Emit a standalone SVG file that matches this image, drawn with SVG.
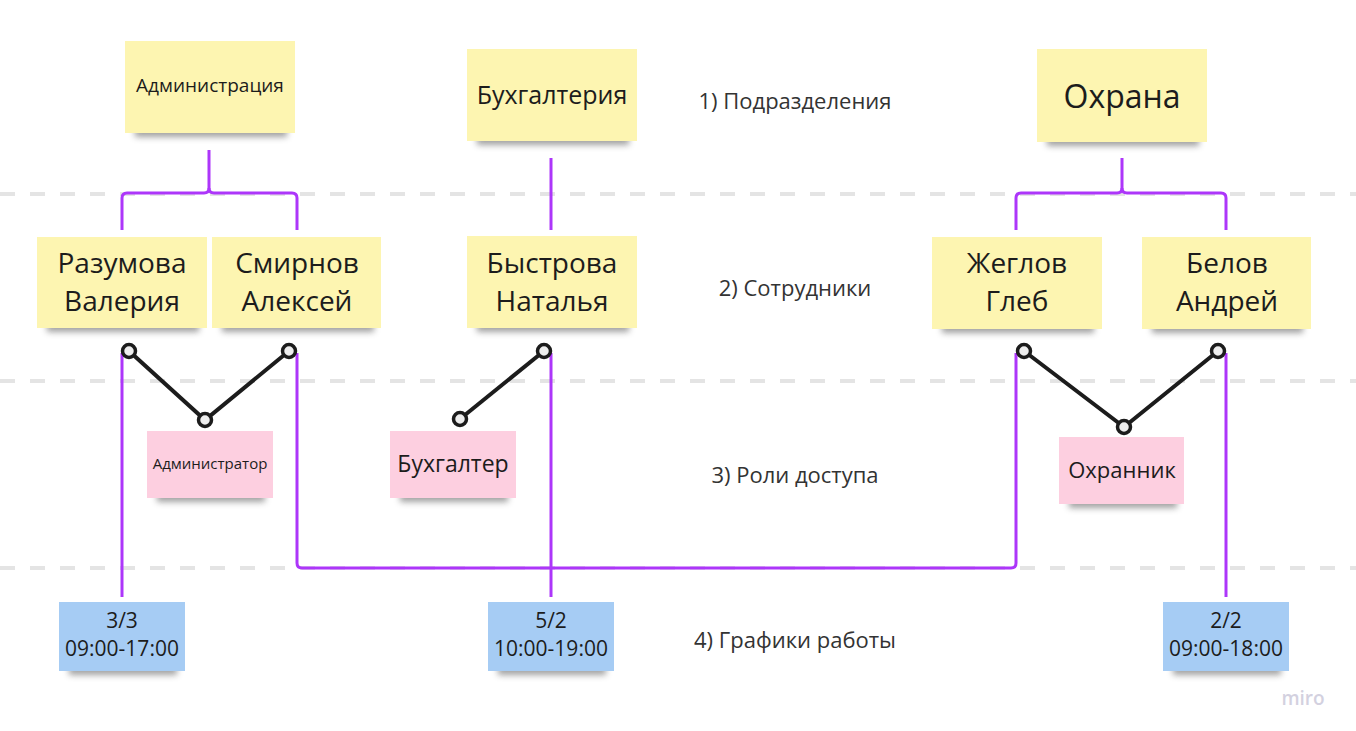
<svg xmlns="http://www.w3.org/2000/svg" width="1356" height="731" viewBox="0 0 1356 731">
<defs>
<filter id="sh" x="-20%" y="-100%" width="140%" height="300%"><feGaussianBlur stdDeviation="3"/></filter>
<style>
.y{fill:#fdf5b1}
.p{fill:#fdcfe0}
.b{fill:#a6ccf4}
.s{fill:#555;opacity:0.55;filter:url(#sh)}
.t{font-family:"Open Sans","Liberation Sans",sans-serif;fill:#1c1c1c;text-anchor:middle}
.l{font-family:"Open Sans","Liberation Sans",sans-serif;fill:#333;text-anchor:middle;font-size:22px}
.dash{stroke:#e4e4e4;stroke-width:4;stroke-dasharray:15 15;fill:none}
.pu{stroke:#ad36fa;stroke-width:3;fill:none}
.bk{stroke:#1c1c1c;stroke-width:4;fill:none}
.c{fill:#eeeeee;stroke:#1c1c1c;stroke-width:3.5}
</style>
</defs>
<rect width="1356" height="731" fill="#ffffff"/>
<g id="gridlines">
<line class="dash" x1="0" y1="194" x2="1356" y2="194"/>
<line class="dash" x1="0" y1="381" x2="1356" y2="381"/>
<line class="dash" x1="0" y1="568" x2="1356" y2="568"/>
</g>
<g id="connectors">
<path class="pu" d="M209,150 V188 q0,5 -5,5 H127 q-5,0 -5,5 V230"/>
<path class="pu" d="M209,188 q0,5 5,5 H292 q5,0 5,5 V230"/>
<path class="pu" d="M551,158 V230"/>
<path class="pu" d="M1122,158 V188 q0,5 -5,5 H1021 q-5,0 -5,5 V230"/>
<path class="pu" d="M1122,188 q0,5 5,5 H1221 q5,0 5,5 V230"/>
<path class="pu" d="M122,353 V597"/>
<path class="pu" d="M297,353 V563 q0,5 5,5 H1011 q5,0 5,-5 V353"/>
<path class="pu" d="M551,353 V597"/>
<path class="pu" d="M1226,353 V597"/>
<path class="bk" d="M129,351 L205,420 L289,351"/>
<path class="bk" d="M460,419 L544,351"/>
<path class="bk" d="M1024,351 L1124,427 L1218,351"/>
<circle class="c" cx="129" cy="351" r="6.5"/>
<circle class="c" cx="289" cy="351" r="6.5"/>
<circle class="c" cx="205" cy="420" r="6.5"/>
<circle class="c" cx="460" cy="419" r="6.5"/>
<circle class="c" cx="544" cy="351" r="6.5"/>
<circle class="c" cx="1024" cy="351" r="6.5"/>
<circle class="c" cx="1218" cy="351" r="6.5"/>
<circle class="c" cx="1124" cy="427" r="6.5"/>
</g>
<g id="n-admin-dept">
<rect class="s" x="135" y="126" width="152" height="11"/>
<rect class="y" x="125" y="41" width="170" height="92"/>
<text class="t" x="210" y="92" font-size="19">Администрация</text>
</g>
<g id="n-buh-dept">
<rect class="s" x="477" y="134" width="152" height="11"/>
<rect class="y" x="467" y="49" width="170" height="92"/>
<text class="t" x="552" y="104" font-size="25">Бухгалтерия</text>
</g>
<g id="n-ohrana-dept">
<rect class="s" x="1047" y="135" width="152" height="11"/>
<rect class="y" x="1037" y="49" width="170" height="93"/>
<text class="t" x="1122" y="108" font-size="32">Охрана</text>
</g>
<g id="n-razumova">
<rect class="s" x="47" y="321" width="152" height="11"/>
<rect class="y" x="37" y="237" width="170" height="91"/>
<text class="t" x="122" y="273" font-size="28">Разумова</text>
<text class="t" x="122" y="311" font-size="28">Валерия</text>
</g>
<g id="n-smirnov">
<rect class="s" x="222" y="321" width="152" height="11"/>
<rect class="y" x="212" y="237" width="169" height="91"/>
<text class="t" x="297" y="273" font-size="28">Смирнов</text>
<text class="t" x="297" y="311" font-size="28">Алексей</text>
</g>
<g id="n-bystrova">
<rect class="s" x="477" y="321" width="152" height="11"/>
<rect class="y" x="467" y="236" width="170" height="92"/>
<text class="t" x="552" y="273" font-size="28">Быстрова</text>
<text class="t" x="552" y="311" font-size="28">Наталья</text>
</g>
<g id="n-zheglov">
<rect class="s" x="942" y="322" width="152" height="11"/>
<rect class="y" x="932" y="237" width="170" height="92"/>
<text class="t" x="1017" y="273" font-size="28">Жеглов</text>
<text class="t" x="1017" y="311" font-size="28">Глеб</text>
</g>
<g id="n-belov">
<rect class="s" x="1152" y="322" width="151" height="11"/>
<rect class="y" x="1142" y="237" width="169" height="92"/>
<text class="t" x="1227" y="273" font-size="28">Белов</text>
<text class="t" x="1227" y="311" font-size="28">Андрей</text>
</g>
<g id="n-role-admin">
<rect class="s" x="157" y="492" width="108" height="10"/>
<rect class="p" x="147" y="431" width="126" height="67"/>
<text class="t" x="210" y="469" font-size="15">Администратор</text>
</g>
<g id="n-role-buh">
<rect class="s" x="400" y="492" width="108" height="10"/>
<rect class="p" x="390" y="431" width="126" height="67"/>
<text class="t" x="453" y="472" font-size="23">Бухгалтер</text>
</g>
<g id="n-role-ohrana">
<rect class="s" x="1069" y="498" width="108" height="10"/>
<rect class="p" x="1059" y="437" width="125" height="67"/>
<text class="t" x="1122" y="478" font-size="22">Охранник</text>
</g>
<g id="n-sched-33">
<rect class="s" x="69" y="665" width="108" height="10"/>
<rect class="b" x="59" y="602" width="126" height="69"/>
<text class="t" x="122" y="628" font-size="21">3/3</text>
<text class="t" x="122" y="656" font-size="21">09:00-17:00</text>
</g>
<g id="n-sched-52">
<rect class="s" x="498" y="665" width="108" height="10"/>
<rect class="b" x="488" y="602" width="126" height="69"/>
<text class="t" x="551" y="628" font-size="21">5/2</text>
<text class="t" x="551" y="656" font-size="21">10:00-19:00</text>
</g>
<g id="n-sched-22">
<rect class="s" x="1173" y="665" width="108" height="10"/>
<rect class="b" x="1163" y="602" width="126" height="69"/>
<text class="t" x="1226" y="628" font-size="21">2/2</text>
<text class="t" x="1226" y="656" font-size="21">09:00-18:00</text>
</g>
<g id="labels">
<text class="l" x="795" y="109">1) Подразделения</text>
<text class="l" x="795" y="296">2) Сотрудники</text>
<text class="l" x="795" y="483">3) Роли доступа</text>
<text class="l" x="795" y="648">4) Графики работы</text>
<text x="1303" y="705" font-family="Open Sans, Liberation Sans, sans-serif" font-size="19" font-weight="600" fill="#d3d1df" text-anchor="middle">miro</text>
</g>
</svg>
